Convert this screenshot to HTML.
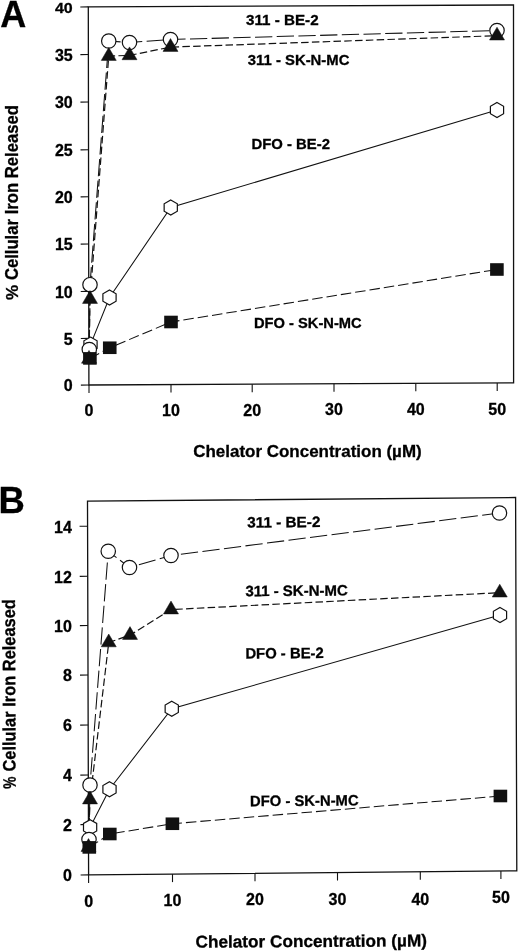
<!DOCTYPE html>
<html><head><meta charset="utf-8"><title>Figure</title>
<style>
html,body{margin:0;padding:0;background:#fff;}
svg{display:block}
text{font-family:'Liberation Sans', Arial, Helvetica, sans-serif;font-weight:bold;fill:#000;stroke:#000;stroke-width:0.3px;}
</style></head><body>
<svg width="520" height="951" viewBox="0 0 520 951">
<rect width="520" height="951" fill="#fff"/>
<g id="panelA">
<text x="0.3" y="27.3" font-size="36">A</text>
<polygon points="88.3,6.9 513.5,5.0 513.6,382.8 88.9,385.0" fill="none" stroke="#111" stroke-width="1.3" stroke-linejoin="miter"/>
<line x1="80.30" y1="7.00" x2="88.30" y2="6.90" stroke="#111" stroke-width="1.1"/>
<text x="72.7" y="13.23" text-anchor="end" font-size="16.0" transform="translate(0 13.23) scale(1 0.86) translate(0 -13.23)">40</text>
<line x1="80.38" y1="54.60" x2="88.38" y2="54.50" stroke="#111" stroke-width="1.1"/>
<text x="72.7" y="60.83" text-anchor="end" font-size="16.0">35</text>
<line x1="80.45" y1="102.10" x2="88.45" y2="102.00" stroke="#111" stroke-width="1.1"/>
<text x="72.7" y="108.33" text-anchor="end" font-size="16.0">30</text>
<line x1="80.53" y1="149.90" x2="88.53" y2="149.80" stroke="#111" stroke-width="1.1"/>
<text x="72.7" y="156.13" text-anchor="end" font-size="16.0">25</text>
<line x1="80.60" y1="196.90" x2="88.60" y2="196.80" stroke="#111" stroke-width="1.1"/>
<text x="72.7" y="203.13" text-anchor="end" font-size="16.0">20</text>
<line x1="80.68" y1="244.10" x2="88.68" y2="244.00" stroke="#111" stroke-width="1.1"/>
<text x="72.7" y="250.33" text-anchor="end" font-size="16.0">15</text>
<line x1="80.75" y1="291.50" x2="88.75" y2="291.40" stroke="#111" stroke-width="1.1"/>
<text x="72.7" y="297.73" text-anchor="end" font-size="16.0">10</text>
<line x1="80.83" y1="338.50" x2="88.83" y2="338.40" stroke="#111" stroke-width="1.1"/>
<text x="72.7" y="344.73" text-anchor="end" font-size="16.0">5</text>
<line x1="80.90" y1="385.10" x2="88.90" y2="385.00" stroke="#111" stroke-width="1.1"/>
<text x="72.7" y="391.33" text-anchor="end" font-size="16.0">0</text>
<line x1="89.00" y1="385.00" x2="89.00" y2="393.00" stroke="#111" stroke-width="1.1"/>
<text x="89.00" y="416.00" text-anchor="middle" font-size="16.0">0</text>
<line x1="171.00" y1="384.57" x2="171.00" y2="392.57" stroke="#111" stroke-width="1.1"/>
<text x="171.00" y="415.81" text-anchor="middle" font-size="16.0">10</text>
<line x1="252.20" y1="384.15" x2="252.20" y2="392.15" stroke="#111" stroke-width="1.1"/>
<text x="252.20" y="415.62" text-anchor="middle" font-size="16.0">20</text>
<line x1="334.00" y1="383.73" x2="334.00" y2="391.73" stroke="#111" stroke-width="1.1"/>
<text x="334.00" y="415.42" text-anchor="middle" font-size="16.0">30</text>
<line x1="415.80" y1="383.31" x2="415.80" y2="391.31" stroke="#111" stroke-width="1.1"/>
<text x="415.80" y="415.23" text-anchor="middle" font-size="16.0">40</text>
<line x1="497.20" y1="382.88" x2="497.20" y2="390.88" stroke="#111" stroke-width="1.1"/>
<text x="497.20" y="415.04" text-anchor="middle" font-size="16.0">50</text>
<polyline points="90.5,344.6 109.5,297.5 170.75,207.5 497,110" fill="none" stroke="#111" stroke-width="1.05"/>
<polyline points="89.3,349.5 90,284.7 108.75,41 129.5,42.5 170.5,39.5 497,30.5" fill="none" stroke="#111" stroke-width="1.05" stroke-dasharray="17.3 4.4"/>
<polyline points="89,358.90000000000003 90,299.1 108.75,56.1 129.5,55.4 170.5,47.1 497,35.7" fill="none" stroke="#111" stroke-width="1.2" stroke-dasharray="7.5 3.3"/>
<polyline points="89.9,358.4 109.75,347.75 171,322 496.9,269.5" fill="none" stroke="#111" stroke-width="1.05" stroke-dasharray="10.5 4"/>
<polygon points="90.50,337.10 97.10,340.85 97.10,348.35 90.50,352.10 83.90,348.35 83.90,340.85" fill="#fff" stroke="#111" stroke-width="1.2"/>
<polygon points="109.50,290.00 116.10,293.75 116.10,301.25 109.50,305.00 102.90,301.25 102.90,293.75" fill="#fff" stroke="#111" stroke-width="1.2"/>
<polygon points="170.75,200.00 177.35,203.75 177.35,211.25 170.75,215.00 164.15,211.25 164.15,203.75" fill="#fff" stroke="#111" stroke-width="1.2"/>
<polygon points="497.00,102.50 503.60,106.25 503.60,113.75 497.00,117.50 490.40,113.75 490.40,106.25" fill="#fff" stroke="#111" stroke-width="1.2"/>
<circle cx="89.3" cy="349.5" r="7.2" fill="#fff" stroke="#111" stroke-width="1.2"/>
<circle cx="90" cy="284.7" r="7.2" fill="#fff" stroke="#111" stroke-width="1.2"/>
<circle cx="108.75" cy="41" r="7.2" fill="#fff" stroke="#111" stroke-width="1.2"/>
<circle cx="129.5" cy="42.5" r="7.2" fill="#fff" stroke="#111" stroke-width="1.2"/>
<circle cx="170.5" cy="39.5" r="7.2" fill="#fff" stroke="#111" stroke-width="1.2"/>
<circle cx="497" cy="30.5" r="7.2" fill="#fff" stroke="#111" stroke-width="1.2"/>
<polygon points="89,350.40 96.50,363.20 81.50,363.20" fill="#111" stroke="#111" stroke-width="0.5" stroke-linejoin="miter"/>
<polygon points="90,290.60 97.50,303.40 82.50,303.40" fill="#111" stroke="#111" stroke-width="0.5" stroke-linejoin="miter"/>
<polygon points="108.75,47.60 116.25,60.40 101.25,60.40" fill="#111" stroke="#111" stroke-width="0.5" stroke-linejoin="miter"/>
<polygon points="129.5,46.90 137.00,59.70 122.00,59.70" fill="#111" stroke="#111" stroke-width="0.5" stroke-linejoin="miter"/>
<polygon points="170.5,38.60 178.00,51.40 163.00,51.40" fill="#111" stroke="#111" stroke-width="0.5" stroke-linejoin="miter"/>
<polygon points="497,27.20 504.50,40.00 489.50,40.00" fill="#111" stroke="#111" stroke-width="0.5" stroke-linejoin="miter"/>
<rect x="83.10" y="352.10" width="13.6" height="12.6" fill="#111"/>
<rect x="102.95" y="341.45" width="13.6" height="12.6" fill="#111"/>
<rect x="164.20" y="315.70" width="13.6" height="12.6" fill="#111"/>
<rect x="490.10" y="263.20" width="13.6" height="12.6" fill="#111"/>
<text x="246" y="25.2" font-size="15" textLength="72.6" lengthAdjust="spacingAndGlyphs">311 - BE-2</text>
<text x="247.8" y="64.6" font-size="15" textLength="101.6" lengthAdjust="spacingAndGlyphs">311 - SK-N-MC</text>
<text x="251.5" y="149.2" font-size="15" textLength="78.5" lengthAdjust="spacingAndGlyphs">DFO - BE-2</text>
<text x="254" y="327.5" font-size="15" textLength="107.7" lengthAdjust="spacingAndGlyphs">DFO - SK-N-MC</text>
<text x="193.2" y="456.5" font-size="16.8" textLength="228.5" lengthAdjust="spacingAndGlyphs">Chelator Concentration (µM)</text>
<text x="17.8" y="300.0" font-size="17" transform="rotate(-90 17.8 300.0)">%</text>
<text x="17.6" y="280.1" font-size="17.6" textLength="175.0" lengthAdjust="spacingAndGlyphs" transform="rotate(-90 17.6 280.1)">Cellular Iron Released</text>
</g>
<g id="panelB">
<text x="-1.4" y="513.2" font-size="36.5">B</text>
<polygon points="87.5,501.2 515.6,497.5 516.8,870.8 88.6,874.9" fill="none" stroke="#111" stroke-width="1.3" stroke-linejoin="miter"/>
<line x1="79.57" y1="526.30" x2="87.57" y2="526.20" stroke="#111" stroke-width="1.1"/>
<text x="71.9" y="532.53" text-anchor="end" font-size="16.0">14</text>
<line x1="79.72" y1="576.35" x2="87.72" y2="576.25" stroke="#111" stroke-width="1.1"/>
<text x="71.9" y="582.58" text-anchor="end" font-size="16.0">12</text>
<line x1="79.87" y1="625.60" x2="87.87" y2="625.50" stroke="#111" stroke-width="1.1"/>
<text x="71.9" y="631.83" text-anchor="end" font-size="16.0">10</text>
<line x1="80.01" y1="675.10" x2="88.01" y2="675.00" stroke="#111" stroke-width="1.1"/>
<text x="71.9" y="681.33" text-anchor="end" font-size="16.0">8</text>
<line x1="80.16" y1="725.10" x2="88.16" y2="725.00" stroke="#111" stroke-width="1.1"/>
<text x="71.9" y="731.33" text-anchor="end" font-size="16.0">6</text>
<line x1="80.31" y1="775.10" x2="88.31" y2="775.00" stroke="#111" stroke-width="1.1"/>
<text x="71.9" y="781.33" text-anchor="end" font-size="16.0">4</text>
<line x1="80.45" y1="824.60" x2="88.45" y2="824.50" stroke="#111" stroke-width="1.1"/>
<text x="71.9" y="830.83" text-anchor="end" font-size="16.0">2</text>
<line x1="80.60" y1="875.00" x2="88.60" y2="874.90" stroke="#111" stroke-width="1.1"/>
<text x="71.9" y="881.23" text-anchor="end" font-size="16.0">0</text>
<line x1="88.60" y1="874.90" x2="88.60" y2="882.90" stroke="#111" stroke-width="1.1"/>
<text x="88.60" y="907.20" text-anchor="middle" font-size="16.0">0</text>
<line x1="172.50" y1="874.10" x2="172.50" y2="882.10" stroke="#111" stroke-width="1.1"/>
<text x="172.50" y="905.60" text-anchor="middle" font-size="16.0">10</text>
<line x1="255.00" y1="873.31" x2="255.00" y2="881.31" stroke="#111" stroke-width="1.1"/>
<text x="255.00" y="905.00" text-anchor="middle" font-size="16.0">20</text>
<line x1="337.50" y1="872.52" x2="337.50" y2="880.52" stroke="#111" stroke-width="1.1"/>
<text x="337.50" y="904.50" text-anchor="middle" font-size="16.0">30</text>
<line x1="420.30" y1="871.72" x2="420.30" y2="879.72" stroke="#111" stroke-width="1.1"/>
<text x="420.30" y="904.60" text-anchor="middle" font-size="16.0">40</text>
<line x1="500.90" y1="870.95" x2="500.90" y2="878.95" stroke="#111" stroke-width="1.1"/>
<text x="500.90" y="903.20" text-anchor="middle" font-size="16.0">50</text>
<polyline points="90.1,827.2 109.5,789.25 171.75,708.75 500,615" fill="none" stroke="#111" stroke-width="1.05"/>
<polyline points="89,839.5 90,785 108.25,551.25 129.5,567.5 171,555.5 499.5,513" fill="none" stroke="#111" stroke-width="1.05" stroke-dasharray="17.3 4.4"/>
<polyline points="88.5,847.1 90,799.6 108.75,642.5 130,635.1 171,609.6 499.75,592.7" fill="none" stroke="#111" stroke-width="1.2" stroke-dasharray="7.5 3.3"/>
<polyline points="89.3,847.4 109.8,834 172.4,823.75 500.4,796" fill="none" stroke="#111" stroke-width="1.05" stroke-dasharray="10.5 4"/>
<polygon points="90.10,819.70 96.70,823.45 96.70,830.95 90.10,834.70 83.50,830.95 83.50,823.45" fill="#fff" stroke="#111" stroke-width="1.2"/>
<polygon points="109.50,781.75 116.10,785.50 116.10,793.00 109.50,796.75 102.90,793.00 102.90,785.50" fill="#fff" stroke="#111" stroke-width="1.2"/>
<polygon points="171.75,701.25 178.35,705.00 178.35,712.50 171.75,716.25 165.15,712.50 165.15,705.00" fill="#fff" stroke="#111" stroke-width="1.2"/>
<polygon points="500.00,607.50 506.60,611.25 506.60,618.75 500.00,622.50 493.40,618.75 493.40,611.25" fill="#fff" stroke="#111" stroke-width="1.2"/>
<circle cx="89" cy="839.5" r="7.2" fill="#fff" stroke="#111" stroke-width="1.2"/>
<circle cx="90" cy="785" r="7.2" fill="#fff" stroke="#111" stroke-width="1.2"/>
<circle cx="108.25" cy="551.25" r="7.2" fill="#fff" stroke="#111" stroke-width="1.2"/>
<circle cx="129.5" cy="567.5" r="7.2" fill="#fff" stroke="#111" stroke-width="1.2"/>
<circle cx="171" cy="555.5" r="7.2" fill="#fff" stroke="#111" stroke-width="1.2"/>
<circle cx="499.5" cy="513" r="7.2" fill="#fff" stroke="#111" stroke-width="1.2"/>
<polygon points="88.5,838.60 96.00,851.40 81.00,851.40" fill="#111" stroke="#111" stroke-width="0.5" stroke-linejoin="miter"/>
<polygon points="90,791.10 97.50,803.90 82.50,803.90" fill="#111" stroke="#111" stroke-width="0.5" stroke-linejoin="miter"/>
<polygon points="108.75,634.00 116.25,646.80 101.25,646.80" fill="#111" stroke="#111" stroke-width="0.5" stroke-linejoin="miter"/>
<polygon points="130,626.60 137.50,639.40 122.50,639.40" fill="#111" stroke="#111" stroke-width="0.5" stroke-linejoin="miter"/>
<polygon points="171,601.10 178.50,613.90 163.50,613.90" fill="#111" stroke="#111" stroke-width="0.5" stroke-linejoin="miter"/>
<polygon points="499.75,584.20 507.25,597.00 492.25,597.00" fill="#111" stroke="#111" stroke-width="0.5" stroke-linejoin="miter"/>
<rect x="82.50" y="841.10" width="13.6" height="12.6" fill="#111"/>
<rect x="103.00" y="827.70" width="13.6" height="12.6" fill="#111"/>
<rect x="165.60" y="817.45" width="13.6" height="12.6" fill="#111"/>
<rect x="493.60" y="789.70" width="13.6" height="12.6" fill="#111"/>
<text x="247.3" y="527.5" font-size="15" textLength="73.1" lengthAdjust="spacingAndGlyphs" transform="rotate(-0.4 247.3 527.5)">311 - BE-2</text>
<text x="245.4" y="596.2" font-size="15" textLength="102.4" lengthAdjust="spacingAndGlyphs" transform="rotate(-0.4 245.4 596.2)">311 - SK-N-MC</text>
<text x="245.4" y="658.6" font-size="15" textLength="78.4" lengthAdjust="spacingAndGlyphs" transform="rotate(-0.4 245.4 658.6)">DFO - BE-2</text>
<text x="250" y="806.2" font-size="15" textLength="108.6" lengthAdjust="spacingAndGlyphs" transform="rotate(-0.4 250 806.2)">DFO - SK-N-MC</text>
<text x="195.5" y="947.6" font-size="17" textLength="231.5" lengthAdjust="spacingAndGlyphs" transform="rotate(-0.32 195.5 947.6)">Chelator Concentration (µM)</text>
<text x="15.7" y="788.7" font-size="18" textLength="12.2" lengthAdjust="spacingAndGlyphs" transform="rotate(-90.2 15.7 788.7)">%</text>
<text x="15.6" y="771.6" font-size="18" textLength="172.5" lengthAdjust="spacingAndGlyphs" transform="rotate(-90.2 15.6 771.6)">Cellular Iron Released</text>
</g>
</svg></body></html>
